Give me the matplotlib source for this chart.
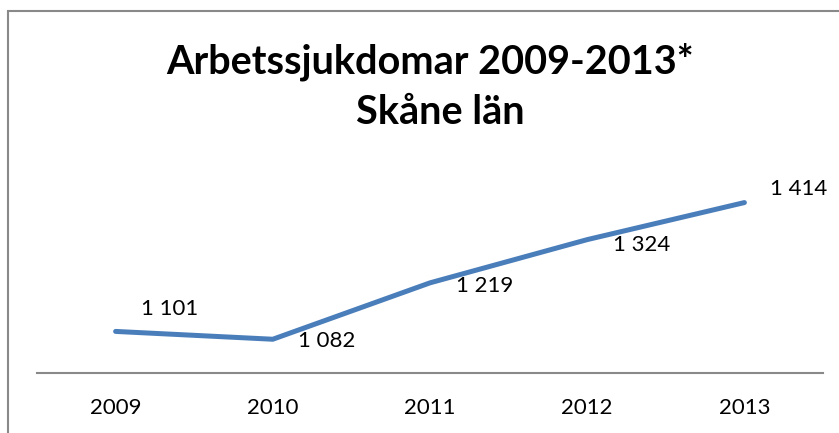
import matplotlib
matplotlib.use("Agg")
from matplotlib import pyplot as plt
from matplotlib.patches import Rectangle

years = ["2009", "2010", "2011", "2012", "2013"]
cases = [1101, 1082, 1219, 1324, 1414]
labels = ["1 101", "1 082", "1 219", "1 324", "1 414"]

# label offsets in points (dx, dy), tuned by eye
offsets = [(39, 16), (39, -1), (39, -2), (39, -4), (39, 10)]

plt.rcParams["font.family"] = ["Lato", "DejaVu Sans"]

fig = plt.figure(figsize=(8.39, 4.33), dpi=100)
W, H = 839, 433

# chart frame, cut off on the right and bottom like the source
fig.patches.append(Rectangle((7.5 / W, -0.1), 1.2, 1 - 10.5 / H + 0.1,
                             transform=fig.transFigure, fill=False,
                             edgecolor="#898989", linewidth=1.5))

ax = fig.add_axes([37 / W, 1 - 373 / H, (823 - 37) / W, (373 - 126) / H])
x = list(range(len(years)))
ax.plot(x, cases, color="#4A7EBB", linewidth=3.6, solid_capstyle="round",
        solid_joinstyle="round")

for xi, v, lab, (dx, dy) in zip(x, cases, labels, offsets):
    ax.annotate(lab, (xi, v), xytext=(dx, dy), textcoords="offset points",
                ha="center", va="center", fontsize=16)

ax.set_xlim(-0.5, 4.5)
ax.set_ylim(1000, 1600)
ax.set_xticks(x)
ax.set_xticklabels(years, fontsize=16)
ax.tick_params(axis="x", length=0, pad=18)
ax.set_yticks([])
for s in ["top", "right", "left"]:
    ax.spines[s].set_visible(False)
ax.spines["bottom"].set_color("#898989")
ax.spines["bottom"].set_linewidth(1.5)

fig.text(430 / W, 1 - 62 / H, "Arbetssjukdomar 2009-2013*", ha="center",
         va="center", fontsize=28.5, fontweight="bold")
fig.text(440 / W, 1 - 113 / H, "Skåne län", ha="center", va="center",
         fontsize=28.5, fontweight="bold")

fig.savefig("out.png", dpi=100)
